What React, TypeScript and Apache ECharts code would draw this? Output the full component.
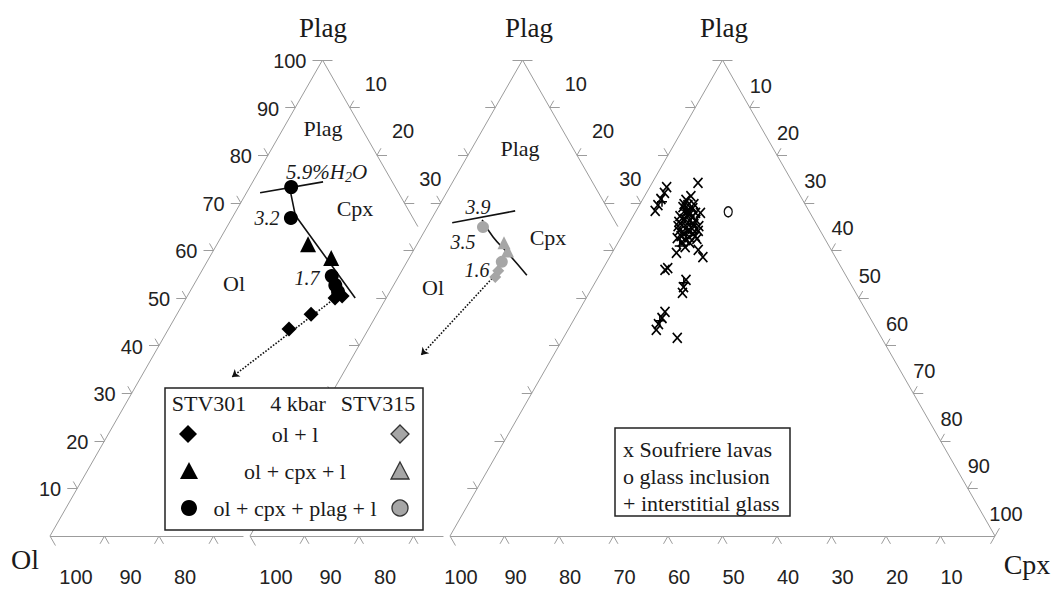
import React, { useEffect, useRef } from "react";
import * as echarts from "echarts";

// ---------- DATA (ternary [Ol, Plag, Cpx] in %) ----------
// STV301 experiments, 4 kbar (left diagram, black)
const stv301Ol = [[34.4, 43.5, 22.1], [28.8, 46.6, 24.6], [22.7, 50.0, 27.3], [21.2, 50.4, 28.4]];
const stv301OlCpx = [[22.0, 61.3, 16.7], [19.2, 58.4, 22.4]];
const stv301OlCpxPlag = [[19.1, 73.3, 7.6], [22.4, 66.8, 10.8], [21.0, 54.6, 24.4], [21.3, 52.7, 26.0], [21.5, 51.3, 27.2]];
// STV315 experiments (middle diagram, gray)
const stv315Ol = [[26.6, 55.7, 17.7], [27.8, 54.4, 17.8]];
const stv315OlCpx = [[22.6, 61.6, 15.8], [22.8, 59.9, 17.3]];
const stv315OlCpxPlag = [[24.8, 64.9, 10.3], [25.0, 57.6, 17.4]];
// boundary curves and trends
const cotectic301 = [[19.4, 73.3, 7.3], [21.3, 67.4, 11.3], [19.0, 50.0, 31.0]];
const h2oLine301 = [[25.4, 72.1, 2.5], [12.7, 74.4, 12.9]];
const h2oLine315 = [[30.0, 65.8, 4.2], [17.2, 68.3, 14.5]];
const cotectic315 = [[24.2, 66.4, 9.4], [24.0, 62.8, 13.2], [23.0, 59.5, 17.5], [21.8, 54.8, 23.4]];
const trend301 = [[22.0, 50.4, 27.6], [49.9, 33.4, 16.7]];
const trend315 = [[27.9, 54.6, 17.5], [49.6, 38.0, 12.4]];
// Soufriere natural samples (right diagram)
const soufriereLavas = [
  [23.6, 73.3, 3.1], [24.6, 72.1, 3.3], [25.9, 70.8, 3.3], [27.1, 69.5, 3.4], [28.2, 68.3, 3.5],
  [17.4, 74.2, 8.4], [21.4, 70.6, 8.0], [20.1, 71.4, 8.5], [22.7, 69.1, 8.2], [21.6, 69.5, 8.9],
  [21.0, 68.9, 10.1], [22.6, 68.1, 9.3], [22.2, 67.6, 10.2], [21.0, 67.9, 11.1], [24.2, 67.2, 8.6],
  [23.6, 66.6, 9.8], [22.9, 66.2, 10.9], [21.7, 66.4, 11.9], [24.8, 65.3, 9.9], [24.1, 64.9, 11.0],
  [23.3, 64.5, 12.2], [22.4, 64.1, 13.5], [25.9, 64.1, 10.0], [25.4, 63.4, 11.2], [24.7, 62.8, 12.5],
  [27.0, 62.6, 10.4], [26.5, 61.8, 11.7], [20.1, 67.9, 12.0], [23.5, 62.4, 14.1], [22.1, 68.3, 9.6],
  [24.0, 66.4, 9.6], [22.5, 65.5, 12.0], [24.2, 64.1, 11.7], [23.7, 63.4, 12.9], [25.7, 62.2, 12.2],
  [22.2, 69.7, 8.1], [20.4, 69.7, 9.9], [25.0, 66.0, 9.0], [21.8, 65.1, 13.1], [26.1, 63.0, 10.9],
  [23.5, 63.0, 13.5], [25.2, 61.6, 13.2], [26.5, 60.7, 12.8], [25.6, 65.1, 9.3], [22.1, 67.0, 10.9],
  [22.8, 67.4, 9.8],
  [28.7, 59.5, 11.8], [24.4, 60.1, 15.5], [24.3, 58.6, 17.1], [32.6, 55.9, 11.5], [31.9, 56.3, 11.8],
  [29.8, 53.8, 16.4], [31.0, 52.3, 16.7], [31.8, 51.1, 17.1], [37.0, 47.1, 15.9], [38.2, 45.8, 16.0],
  [39.5, 44.5, 16.0], [40.5, 43.3, 16.2], [37.5, 41.6, 20.9],
];
const interstitialGlass = [[26.0, 70.2, 3.8], [22.6, 68.5, 8.9], [23.1, 65.5, 11.4], [24.8, 63.7, 11.5], [27.4, 60.9, 11.7], [30.5, 53.2, 16.3], [38.9, 45.2, 15.9]];
const glassInclusion = [[14.9, 68.1, 17.0]];

// tick labels
const leftTicks = [10, 20, 30, 40, 50, 60, 70, 80, 90, 100];
const shortRightTicks = [10, 20, 30];
const fullRightTicks = [10, 20, 30, 40, 50, 60, 70, 80, 90, 100];
const shortBaseTicks = [100, 90, 80];
const fullBaseTicks = [100, 90, 80, 70, 60, 50, 40, 30, 20, 10];

// ---------- GEOMETRY ----------
const SIDE = 545;
const HEIGHT = 476;
const BASE_Y = 536;
const ORIGINS = [50, 250, 450];

function tern(t: number, v: number[]): number[] {
  const [ol, pl, cx] = v;
  const s = ol + pl + cx;
  return [ORIGINS[t] + SIDE * ((cx + pl / 2) / s), BASE_Y - HEIGHT * (pl / s)];
}

const SERIF = "'Liberation Serif', 'Times New Roman', 'DejaVu Serif', serif";
const SANS = "'Liberation Sans', Arial, 'DejaVu Sans', sans-serif";
const GRID = "#9c9c9c";

const UL = [-0.497, -0.868];
const UR = [0.497, -0.868];
const DL = [-0.497, 0.868];
const DR = [0.497, 0.868];
const LEFT = [-1, 0];
const RIGHT = [1, 0];

function stroke(p: number[], d: number[], len: number) {
  return { coords: [p, [p[0] + d[0] * len, p[1] + d[1] * len]] };
}

export default function App() {
  const ref = useRef<HTMLDivElement>(null);

  useEffect(() => {
    if (!ref.current) return;
    const chart = echarts.init(ref.current, undefined, { renderer: "svg" });

    // frames
    const frames: any[] = [];
    for (let t = 0; t < 3; t++) {
      const olC = tern(t, [100, 0, 0]);
      const apex = tern(t, [0, 100, 0]);
      frames.push({ coords: [olC, apex] });
      if (t < 2) {
        frames.push({ coords: [apex, tern(t, [0, 65, 35])] });
        frames.push({ coords: [olC, tern(t, [64.5, 0, 35.5])] });
      } else {
        const cpxC = tern(t, [0, 0, 100]);
        frames.push({ coords: [apex, cpxC] });
        frames.push({ coords: [olC, cpxC] });
      }
    }

    // ticks
    const ticks: any[] = [];
    for (let t = 0; t < 3; t++) {
      const apex = tern(t, [0, 100, 0]);
      ticks.push(stroke(apex, LEFT, 10), stroke(apex, RIGHT, 10));
      ticks.push(stroke(tern(t, [100, 0, 0]), DR, 11));
      for (let v = 10; v <= 90; v += 10) {
        const p = tern(t, [100 - v, v, 0]);
        ticks.push(stroke(p, LEFT, 10), stroke(p, UL, 8));
      }
      const maxR = t < 2 ? 30 : 90;
      for (let v = 10; v <= maxR; v += 10) {
        const p = tern(t, [0, 100 - v, v]);
        ticks.push(stroke(p, RIGHT, 10), stroke(p, UR, 8));
        const b = tern(t, [100 - v, 0, v]);
        ticks.push(stroke(b, DL, 9), stroke(b, DR, 9));
      }
      if (t === 2) {
        const c = tern(t, [0, 0, 100]);
        ticks.push(stroke(c, DL, 9), stroke(c, UR, 9));
      }
    }

    // tick labels
    const labels: { x: number; y: number; text: string; align: string }[] = [];
    leftTicks.forEach((v) => {
      const p = tern(0, [100 - v, v, 0]);
      labels.push({ x: p[0] - 16, y: p[1] + 1, text: String(v), align: "right" });
    });
    [0, 1].forEach((t) => {
      shortRightTicks.forEach((v) => {
        const p = tern(t, [0, 100 - v, v]);
        labels.push({ x: p[0] + 26, y: p[1] - 24, text: String(v), align: "center" });
      });
      shortBaseTicks.forEach((v) => {
        const p = tern(t, [v, 0, 100 - v]);
        labels.push({ x: p[0] + 26, y: 577, text: String(v), align: "center" });
      });
    });
    fullRightTicks.forEach((v) => {
      const p = tern(2, [0, 100 - v, v]);
      labels.push({ x: p[0] + 11, y: p[1] - 22, text: String(v), align: "center" });
    });
    fullBaseTicks.forEach((v) => {
      const p = tern(2, [v, 0, 100 - v]);
      labels.push({ x: p[0] + 11, y: 577, text: String(v), align: "center" });
    });

    const scatter = (name: string, t: number, data: number[][], symbol: string, size: any, itemStyle: any) => ({
      name,
      type: "scatter",
      data: data.map((d) => tern(t, d)),
      symbol,
      symbolSize: size,
      itemStyle: { opacity: 1, ...itemStyle },
      z: 5,
      silent: true,
    });
    const curve = (t: number, data: number[][], smooth = false) => ({
      type: "line",
      data: data.map((d) => tern(t, d)),
      symbol: "none",
      smooth,
      lineStyle: { color: "#111", width: 1.6 },
      z: 4,
      silent: true,
    });

    const black = { color: "#000" };
    const gray = { color: "#a6a6a6" };

    const txt = (text: string, x: number, y: number, font: string, align = "center", extra: any = {}) => ({
      type: "text",
      x,
      y,
      z: 100,
      style: {
        text,
        font,
        fill: "#1a1a1a",
        align,
        textAlign: align,
        verticalAlign: "middle",
        textVerticalAlign: "middle",
        ...extra,
      },
    });

    const LF = `22px ${SERIF}`;
    const elements: any[] = [
      // axis titles
      txt("Plag", 323, 28, `27px ${SERIF}`),
      txt("Plag", 529, 28, `27px ${SERIF}`),
      txt("Plag", 724, 28, `27px ${SERIF}`),
      txt("Ol", 25, 559, `28px ${SERIF}`),
      txt("Cpx", 1027, 564, `28px ${SERIF}`),
      // field labels
      txt("Plag", 323, 128, `22px ${SERIF}`),
      txt("Cpx", 355, 208, `22px ${SERIF}`),
      txt("Ol", 234, 283, `22px ${SERIF}`),
      txt("Plag", 520, 148, `22px ${SERIF}`),
      txt("Cpx", 548, 237, `22px ${SERIF}`),
      txt("Ol", 433, 287, `22px ${SERIF}`),
      // H2O annotations
      {
        type: "text",
        x: 286,
        y: 172,
        z: 100,
        style: {
          text: "{a|5.9%H}{b|2}{a|O}",
          fill: "#1a1a1a",
          align: "left",
          textAlign: "left",
          verticalAlign: "middle",
          textVerticalAlign: "middle",
          rich: {
            a: { font: `italic 21px ${SERIF}`, fill: "#1a1a1a" },
            b: { font: `italic 14px ${SERIF}`, fill: "#1a1a1a", padding: [10, 0, 0, 0] },
          },
        },
      },
      txt("3.2", 267, 218, `italic 20px ${SERIF}`),
      txt("1.7", 307, 278, `italic 20px ${SERIF}`),
      txt("3.9", 478, 207, `italic 20px ${SERIF}`),
      txt("3.5", 463, 242, `italic 20px ${SERIF}`),
      txt("1.6", 477, 270, `italic 20px ${SERIF}`),
      // legend box 1
      { type: "rect", z: 90, shape: { x: 165, y: 388, width: 258, height: 142 }, style: { fill: "#fff", stroke: "#222", lineWidth: 1.5 } },
      txt("STV301", 209, 403, LF),
      txt("4 kbar", 298, 403, LF),
      txt("STV315", 378, 403, LF),
      txt("ol + l", 295, 434, LF),
      txt("ol + cpx + l", 295, 471, LF),
      txt("ol + cpx + plag + l", 295, 508, LF),
      { type: "polygon", z: 100, shape: { points: [[188, 425], [197, 434], [188, 443], [179, 434]] }, style: { fill: "#000" } },
      { type: "polygon", z: 100, shape: { points: [[400, 425], [409, 434], [400, 443], [391, 434]] }, style: { fill: "#a6a6a6", stroke: "#333", lineWidth: 1.3 } },
      { type: "polygon", z: 100, shape: { points: [[189, 462], [198, 479], [180, 479]] }, style: { fill: "#000" } },
      { type: "polygon", z: 100, shape: { points: [[400, 462], [409, 479], [391, 479]] }, style: { fill: "#a6a6a6", stroke: "#333", lineWidth: 1.3 } },
      { type: "circle", z: 100, shape: { cx: 189, cy: 508, r: 8 }, style: { fill: "#000" } },
      { type: "circle", z: 100, shape: { cx: 400, cy: 508, r: 8 }, style: { fill: "#a6a6a6", stroke: "#333", lineWidth: 1.3 } },
      // legend box 2
      { type: "rect", z: 90, shape: { x: 615, y: 428, width: 175, height: 88 }, style: { fill: "#fff", stroke: "#222", lineWidth: 1.5 } },
      txt("x Soufriere lavas", 623, 449, LF, "left"),
      txt("o glass inclusion", 623, 476, LF, "left"),
      txt("+ interstitial glass", 623, 503, LF, "left"),
    ];

    chart.setOption({
      animation: false,
      backgroundColor: "#fff",
      grid: { left: 0, right: 0, top: 0, bottom: 0 },
      xAxis: { type: "value", min: 0, max: 1056, show: false },
      yAxis: { type: "value", min: 0, max: 590, inverse: true, show: false },
      series: [
        {
          type: "lines",
          coordinateSystem: "cartesian2d",
          data: frames,
          lineStyle: { color: GRID, width: 1, opacity: 1 },
          silent: true,
          z: 1,
        },
        {
          type: "lines",
          coordinateSystem: "cartesian2d",
          data: ticks,
          lineStyle: { color: GRID, width: 1, opacity: 1 },
          silent: true,
          z: 1,
        },
        {
          type: "lines",
          coordinateSystem: "cartesian2d",
          data: [{ coords: trend301.map((d) => tern(0, d)) }, { coords: trend315.map((d) => tern(1, d)) }],
          symbol: ["none", "arrow"],
          symbolSize: 7,
          lineStyle: { color: "#111", width: 1.6, type: "dotted", opacity: 1 },
          silent: true,
          z: 3,
        },
        curve(0, cotectic301),
        curve(0, h2oLine301),
        curve(1, h2oLine315),
        curve(1, cotectic315, true),
        scatter("STV301 ol + l", 0, stv301Ol, "diamond", 15, black),
        scatter("STV301 ol + cpx + l", 0, stv301OlCpx, "triangle", 16, black),
        scatter("STV301 ol + cpx + plag + l", 0, stv301OlCpxPlag, "circle", 14, black),
        scatter("STV315 ol + l", 1, stv315Ol, "diamond", 12, gray),
        scatter("STV315 ol + cpx + l", 1, stv315OlCpx, "triangle", 13, gray),
        scatter("STV315 ol + cpx + plag + l", 1, stv315OlCpxPlag, "circle", 12, gray),
        scatter("Soufriere lavas", 2, soufriereLavas, "path://M0 0L10 10M10 0L0 10", [9, 10], {
          color: "rgba(0,0,0,0)",
          borderColor: "#000",
          borderWidth: 1.7,
        }),
        scatter("interstitial glass", 2, interstitialGlass, "path://M5 0L5 10M0 5L10 5", [10, 10], {
          color: "rgba(0,0,0,0)",
          borderColor: "#000",
          borderWidth: 1.5,
        }),
        scatter("glass inclusion", 2, glassInclusion, "circle", [8, 10], {
          color: "rgba(0,0,0,0)",
          borderColor: "#111",
          borderWidth: 1.4,
        }),
        {
          type: "custom",
          coordinateSystem: "cartesian2d",
          data: labels.map((l) => [l.x, l.y]),
          clip: false,
          silent: true,
          z: 6,
          renderItem: (params: any, api: any) => {
            const l = labels[params.dataIndex];
            const p = api.coord([l.x, l.y]);
            return {
              type: "text",
              x: p[0],
              y: p[1],
              style: {
                text: l.text,
                font: `20px ${SANS}`,
                fill: "#222",
                align: l.align,
                textAlign: l.align,
                verticalAlign: "middle",
                textVerticalAlign: "middle",
              },
            };
          },
        },
      ],
      graphic: { elements },
    });

    return () => chart.dispose();
  }, []);

  return (
    <div
      ref={ref}
      style={{ position: "fixed", left: 0, top: 0, width: 1056, height: 590, background: "#fff" }}
    />
  );
}
